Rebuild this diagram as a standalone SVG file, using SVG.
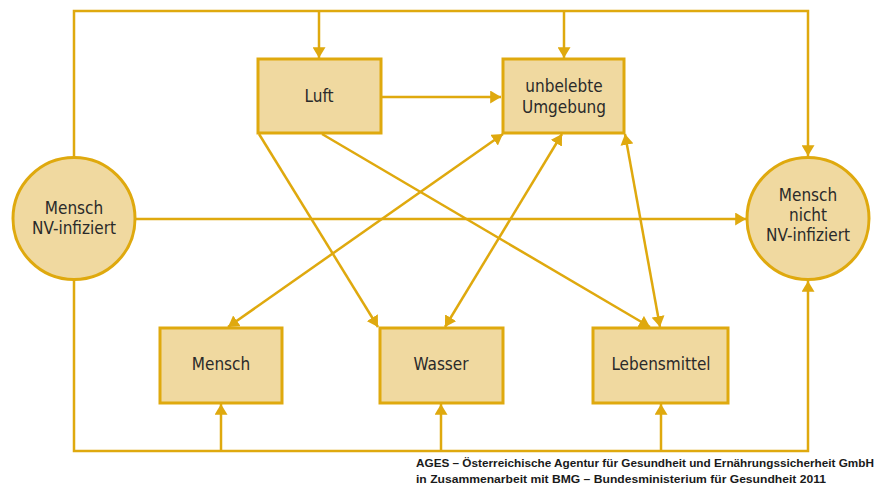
<svg xmlns="http://www.w3.org/2000/svg" width="889" height="488" viewBox="0 0 889 488">
<style>
.box{fill:#F0D9A0;stroke:#DFA90E;stroke-width:3}
.lbl{font-family:"DejaVu Sans Condensed","DejaVu Sans",sans-serif;font-size:17px;fill:#2a2a2a;text-anchor:middle}
.ln{fill:none;stroke:#DFA90E;stroke-width:2.5}
.foot{font-family:"Liberation Sans",Arial,sans-serif;font-weight:bold;font-size:11px;fill:#1a1a1a}
</style>
<defs>
<marker id="ah" viewBox="0 0 10 12" refX="10" refY="6" markerWidth="11" markerHeight="13" markerUnits="userSpaceOnUse" orient="auto-start-reverse">
<path d="M0,0 L10,6 L0,12 z" fill="#DFA90E"/>
</marker>
</defs>
<g id="connectors">
<path class="ln" d="M74,157 V11 H808 V156" marker-end="url(#ah)"/>
<path class="ln" d="M319,11 V58" marker-end="url(#ah)"/>
<path class="ln" d="M564,11 V58" marker-end="url(#ah)"/>
<path class="ln" d="M74,280 V451 H808 V281" marker-end="url(#ah)"/>
<path class="ln" d="M221,451 V404" marker-end="url(#ah)"/>
<path class="ln" d="M441,451 V404" marker-end="url(#ah)"/>
<path class="ln" d="M661,451 V404" marker-end="url(#ah)"/>
<path class="ln" d="M381,97 H501" marker-end="url(#ah)"/>
<path class="ln" d="M135,219 H746" marker-end="url(#ah)"/>
<path class="ln" d="M259,134 L378,327" marker-end="url(#ah)"/>
<path class="ln" d="M322,134 L650,327" marker-end="url(#ah)"/>
<path class="ln" d="M228,327 L503,134" marker-start="url(#ah)" marker-end="url(#ah)"/>
<path class="ln" d="M445,327 L562,134" marker-start="url(#ah)" marker-end="url(#ah)"/>
<path class="ln" d="M660,327 L625,134" marker-start="url(#ah)" marker-end="url(#ah)"/>
</g>
<g id="luft"><rect class="box" x="258" y="59" width="123" height="74"/><text class="lbl" x="319" y="102">Luft</text></g>
<g id="umgebung"><rect class="box" x="503" y="59" width="121" height="74"/><text class="lbl" x="564" y="92">unbelebte</text><text class="lbl" x="564" y="113">Umgebung</text></g>
<g id="mensch-infiziert"><circle class="box" cx="74" cy="218.5" r="61"/><text class="lbl" x="74" y="214">Mensch</text><text class="lbl" x="74" y="234">NV-infiziert</text></g>
<g id="mensch-nicht-infiziert"><circle class="box" cx="808" cy="218.5" r="61"/><text class="lbl" x="808" y="201">Mensch</text><text class="lbl" x="808" y="221">nicht</text><text class="lbl" x="808" y="241">NV-infiziert</text></g>
<g id="mensch"><rect class="box" x="160" y="328" width="122" height="75"/><text class="lbl" x="221" y="370">Mensch</text></g>
<g id="wasser"><rect class="box" x="380" y="328" width="123" height="75"/><text class="lbl" x="441" y="370">Wasser</text></g>
<g id="lebensmittel"><rect class="box" x="593" y="328" width="135" height="75"/><text class="lbl" x="661" y="370">Lebensmittel</text></g>
<g id="footer">
<text class="foot" x="416" y="467" textLength="458" lengthAdjust="spacingAndGlyphs">AGES – Österreichische Agentur für Gesundheit und Ernährungssicherheit GmbH</text>
<text class="foot" x="416" y="483" textLength="410" lengthAdjust="spacingAndGlyphs">in Zusammenarbeit mit BMG – Bundesministerium für Gesundheit 2011</text>
</g>
</svg>
